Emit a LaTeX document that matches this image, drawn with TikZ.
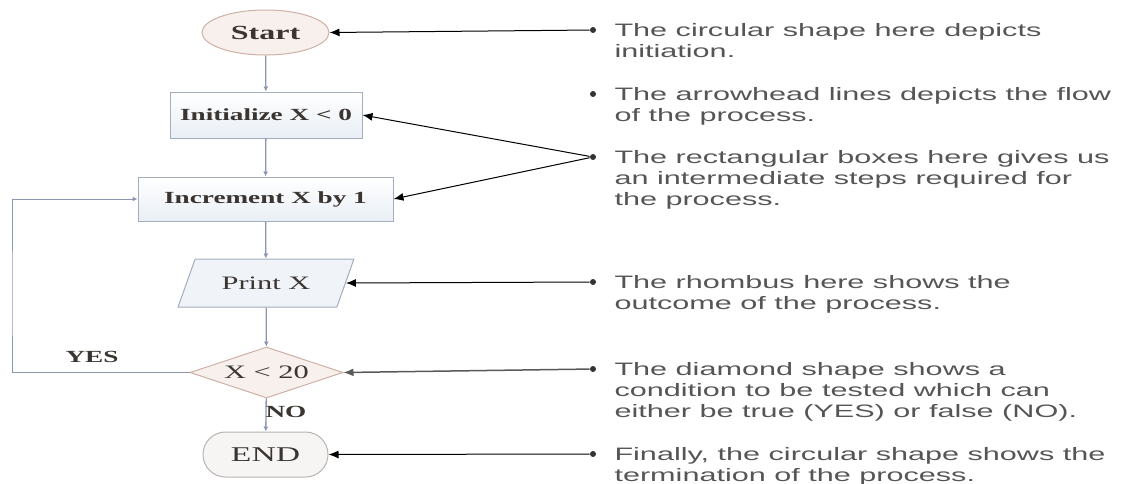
\documentclass[tikz,border=0pt]{standalone}
\usepackage{fontspec}
\setmainfont{Liberation Serif}[FakeStretch=1.6]
\newfontfamily\notefont{Liberation Sans}[FakeStretch=1.7]
\usepackage{tikz}
\usetikzlibrary{arrows,arrows.meta}
\usetikzlibrary{positioning}
\usetikzlibrary{shapes.geometric,shapes.misc}

\definecolor{flowline}{HTML}{8C96AE}
\definecolor{boxline}{HTML}{A3ADBE}
\definecolor{boxfill}{HTML}{E9EFF5}
\definecolor{pinkline}{HTML}{CDB0A6}
\definecolor{pinkfill}{HTML}{F8F0EC}
\definecolor{endline}{HTML}{B8B4B2}
\definecolor{endfill}{HTML}{F6F5F4}
\definecolor{notegray}{HTML}{555555}
\definecolor{nodetext}{HTML}{3A3530}

\begin{document}
\begin{tikzpicture}[x=1pt, y=-1pt,
    flow/.style={draw=flowline, line width=1.3pt, arrows={-Latex[length=5pt,width=5pt]}},
    note/.style={draw=black, line width=1pt, arrows={-Latex[length=10pt,width=8pt]}},
    dot/.style={circle, fill=black!80, inner sep=0pt, minimum size=6pt},
    notetext/.style={anchor=base west, align=left, inner sep=0pt, text=notegray,
        font=\notefont\fontsize{18}{21}\selectfont},
    every node/.append style={text=nodetext, line width=1pt}]
    \useasboundingbox (0,0) rectangle (1121,483);

    % flow chart
    \node[ellipse, draw=pinkline, fill=pinkfill, minimum width=127pt, minimum height=45pt,
        inner sep=0pt, font=\fontsize{20}{20}\selectfont\bfseries] (start) at (265.5,32.5) {Start};
    \node[rectangle, draw=boxline, top color=white, bottom color=boxfill, minimum width=192pt, minimum height=46pt,
        font=\fontsize{17}{18}\selectfont\bfseries] (init) at (266,115) {Initialize X < 0};
    \node[rectangle, draw=boxline, top color=white, bottom color=boxfill, minimum width=255pt, minimum height=44pt,
        font=\fontsize{17}{18}\selectfont\bfseries] (incr) at (265.5,199) {Increment X by 1};
    \node[trapezium, trapezium left angle=50, trapezium right angle=130, trapezium stretches=true,
        draw=boxline, fill=boxfill!70, minimum width=176pt, minimum height=48pt, inner sep=0pt,
        font=\fontsize{19}{20}\selectfont] (print) at (266,283) {Print X};
    \node[diamond, aspect=3, draw=pinkline, fill=pinkfill, minimum width=153pt, minimum height=51pt,
        inner sep=0pt, font=\fontsize{19}{20}\selectfont] (cond) at (266.5,372.5) {X < 20};
    \node[rounded rectangle, draw=endline, fill=endfill, minimum width=125pt, minimum height=45pt,
        inner sep=0pt, font=\fontsize{21}{22}\selectfont] (stop) at (265.5,454.5) {END};

    \draw[flow] (start) -- (init);
    \draw[flow] (init) -- (incr);
    \draw[flow] (incr) -- (print);
    \draw[flow] (print) -- (cond);
    \draw[flow] (cond) -- (stop);
    \coordinate (loop) at (12,300);
    \draw[flow, line width=1pt] (cond.west) -| (loop) |- (incr.west);

    \node[font=\fontsize{17}{18}\selectfont\bfseries] (yes) at (92,357) {YES};
    \node[font=\fontsize{17}{18}\selectfont\bfseries] (no) at (286,412) {NO};

    % notes (anchored at the baseline of their last line)
    \node[dot] (b1) at (593,30) {};
    \node[dot] (b2) at (593,94) {};
    \node[dot] (b3) at (593,157) {};
    \node[dot] (b4) at (593,282) {};
    \node[dot] (b5) at (593,369) {};
    \node[dot] (b6) at (593,454) {};

    \node[notetext] (n1) at (614,57) {The circular shape here depicts\\initiation.};
    \node[notetext] (n2) at (614,121) {The arrowhead lines depicts the flow\\of the process.};
    \node[notetext] (n3) at (614,205) {The rectangular boxes here gives us\\an intermediate steps required for\\the process.};
    \node[notetext] (n4) at (614,309) {The rhombus here shows the\\outcome of the process.};
    \node[notetext] (n5) at (614,417) {The diamond shape shows a\\condition to be tested which can\\either be true (YES) or false (NO).};
    \node[notetext] (n6) at (614,481) {Finally, the circular shape shows the\\termination of the process.};

    \draw[note] (b1) -- (start.east);
    \draw[note] (b3) -- (init.east);
    \draw[note] (b3) -- (incr.east);
    \draw[note] (b4) -- (print.east);
    \draw[note, draw=black!65, line width=1.5pt] (b5) -- (cond.east);
    \draw[note] (b6) -- (stop.east);
\end{tikzpicture}
\end{document}
